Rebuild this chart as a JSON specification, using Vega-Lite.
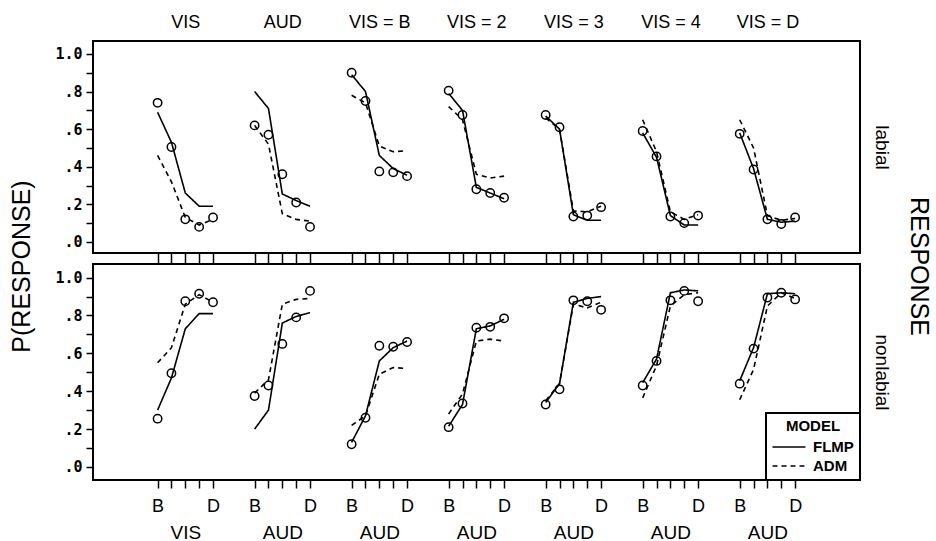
{
  "$schema": "https://vega.github.io/schema/vega-lite/v6.json",
  "background": "white",
  "padding": {"left": 8, "top": 12, "right": 8, "bottom": 0},
  "bounds": "flush",
  "spacing": 11,
  "title": {"text": "RESPONSE", "orient": "right", "anchor": "middle", "angle": 90, "fontSize": 25, "font": "Liberation Sans", "fontWeight": "normal", "offset": 15, "dx": -11, "color": "black"},
  "config": {
    "view": {"stroke": "black", "strokeWidth": 2},
    "axis": {"grid": false, "labelColor": "black", "tickColor": "black", "titleColor": "black", "domainColor": "black", "labelOverlap": false, "labelBound": false, "labelFlush": false, "tickWidth": 1.5},
    "line": {"color": "black"},
    "point": {"color": "black"}
  },
  "datasets": {
    "d": [
      {"resp": "labial", "cond": "VIS", "pos": 0, "obs": 0.74, "FLMP": 0.69, "ADM": 0.46},
      {"resp": "labial", "cond": "VIS", "pos": 1, "obs": 0.505, "FLMP": 0.53, "ADM": 0.32},
      {"resp": "labial", "cond": "VIS", "pos": 2, "obs": 0.12, "FLMP": 0.26, "ADM": 0.13},
      {"resp": "labial", "cond": "VIS", "pos": 3, "obs": 0.08, "FLMP": 0.19, "ADM": 0.09},
      {"resp": "labial", "cond": "VIS", "pos": 4, "obs": 0.13, "FLMP": 0.19, "ADM": 0.12},
      {"resp": "labial", "cond": "AUD", "pos": 7, "obs": 0.62, "FLMP": 0.80, "ADM": 0.62},
      {"resp": "labial", "cond": "AUD", "pos": 8, "obs": 0.57, "FLMP": 0.71, "ADM": 0.52},
      {"resp": "labial", "cond": "AUD", "pos": 9, "obs": 0.36, "FLMP": 0.255, "ADM": 0.15},
      {"resp": "labial", "cond": "AUD", "pos": 10, "obs": 0.21, "FLMP": 0.22, "ADM": 0.12},
      {"resp": "labial", "cond": "AUD", "pos": 11, "obs": 0.08, "FLMP": 0.19, "ADM": 0.11},
      {"resp": "labial", "cond": "VIS = B", "pos": 14, "obs": 0.90, "FLMP": 0.89, "ADM": 0.78},
      {"resp": "labial", "cond": "VIS = B", "pos": 15, "obs": 0.75, "FLMP": 0.80, "ADM": 0.74},
      {"resp": "labial", "cond": "VIS = B", "pos": 16, "obs": 0.375, "FLMP": 0.46, "ADM": 0.51},
      {"resp": "labial", "cond": "VIS = B", "pos": 17, "obs": 0.37, "FLMP": 0.39, "ADM": 0.48},
      {"resp": "labial", "cond": "VIS = B", "pos": 18, "obs": 0.35, "FLMP": 0.355, "ADM": 0.485},
      {"resp": "labial", "cond": "VIS = 2", "pos": 21, "obs": 0.805, "FLMP": 0.79, "ADM": 0.72},
      {"resp": "labial", "cond": "VIS = 2", "pos": 22, "obs": 0.675, "FLMP": 0.70, "ADM": 0.65},
      {"resp": "labial", "cond": "VIS = 2", "pos": 23, "obs": 0.28, "FLMP": 0.29, "ADM": 0.36},
      {"resp": "labial", "cond": "VIS = 2", "pos": 24, "obs": 0.26, "FLMP": 0.26, "ADM": 0.34},
      {"resp": "labial", "cond": "VIS = 2", "pos": 25, "obs": 0.235, "FLMP": 0.23, "ADM": 0.35},
      {"resp": "labial", "cond": "VIS = 3", "pos": 28, "obs": 0.675, "FLMP": 0.67, "ADM": 0.66},
      {"resp": "labial", "cond": "VIS = 3", "pos": 29, "obs": 0.61, "FLMP": 0.60, "ADM": 0.60},
      {"resp": "labial", "cond": "VIS = 3", "pos": 30, "obs": 0.135, "FLMP": 0.145, "ADM": 0.165},
      {"resp": "labial", "cond": "VIS = 3", "pos": 31, "obs": 0.14, "FLMP": 0.115, "ADM": 0.16},
      {"resp": "labial", "cond": "VIS = 3", "pos": 32, "obs": 0.185, "FLMP": 0.115, "ADM": 0.19},
      {"resp": "labial", "cond": "VIS = 4", "pos": 35, "obs": 0.59, "FLMP": 0.58, "ADM": 0.65},
      {"resp": "labial", "cond": "VIS = 4", "pos": 36, "obs": 0.455, "FLMP": 0.45, "ADM": 0.48},
      {"resp": "labial", "cond": "VIS = 4", "pos": 37, "obs": 0.135, "FLMP": 0.14, "ADM": 0.16},
      {"resp": "labial", "cond": "VIS = 4", "pos": 38, "obs": 0.10, "FLMP": 0.09, "ADM": 0.12},
      {"resp": "labial", "cond": "VIS = 4", "pos": 39, "obs": 0.14, "FLMP": 0.09, "ADM": 0.145},
      {"resp": "labial", "cond": "VIS = D", "pos": 42, "obs": 0.575, "FLMP": 0.58, "ADM": 0.65},
      {"resp": "labial", "cond": "VIS = D", "pos": 43, "obs": 0.385, "FLMP": 0.39, "ADM": 0.50},
      {"resp": "labial", "cond": "VIS = D", "pos": 44, "obs": 0.12, "FLMP": 0.12, "ADM": 0.14},
      {"resp": "labial", "cond": "VIS = D", "pos": 45, "obs": 0.095, "FLMP": 0.105, "ADM": 0.115},
      {"resp": "labial", "cond": "VIS = D", "pos": 46, "obs": 0.13, "FLMP": 0.11, "ADM": 0.125},
      {"resp": "nonlabial", "cond": "VIS", "pos": 0, "obs": 0.255, "FLMP": 0.30, "ADM": 0.55},
      {"resp": "nonlabial", "cond": "VIS", "pos": 1, "obs": 0.495, "FLMP": 0.47, "ADM": 0.63},
      {"resp": "nonlabial", "cond": "VIS", "pos": 2, "obs": 0.875, "FLMP": 0.73, "ADM": 0.86},
      {"resp": "nonlabial", "cond": "VIS", "pos": 3, "obs": 0.915, "FLMP": 0.81, "ADM": 0.91},
      {"resp": "nonlabial", "cond": "VIS", "pos": 4, "obs": 0.87, "FLMP": 0.81, "ADM": 0.87},
      {"resp": "nonlabial", "cond": "AUD", "pos": 7, "obs": 0.375, "FLMP": 0.20, "ADM": 0.39},
      {"resp": "nonlabial", "cond": "AUD", "pos": 8, "obs": 0.43, "FLMP": 0.30, "ADM": 0.46},
      {"resp": "nonlabial", "cond": "AUD", "pos": 9, "obs": 0.65, "FLMP": 0.76, "ADM": 0.86},
      {"resp": "nonlabial", "cond": "AUD", "pos": 10, "obs": 0.79, "FLMP": 0.795, "ADM": 0.885},
      {"resp": "nonlabial", "cond": "AUD", "pos": 11, "obs": 0.93, "FLMP": 0.815, "ADM": 0.89},
      {"resp": "nonlabial", "cond": "VIS = B", "pos": 14, "obs": 0.12, "FLMP": 0.13, "ADM": 0.22},
      {"resp": "nonlabial", "cond": "VIS = B", "pos": 15, "obs": 0.26, "FLMP": 0.27, "ADM": 0.27},
      {"resp": "nonlabial", "cond": "VIS = B", "pos": 16, "obs": 0.64, "FLMP": 0.56, "ADM": 0.49},
      {"resp": "nonlabial", "cond": "VIS = B", "pos": 17, "obs": 0.635, "FLMP": 0.63, "ADM": 0.525},
      {"resp": "nonlabial", "cond": "VIS = B", "pos": 18, "obs": 0.66, "FLMP": 0.665, "ADM": 0.52},
      {"resp": "nonlabial", "cond": "VIS = 2", "pos": 21, "obs": 0.21, "FLMP": 0.215, "ADM": 0.28},
      {"resp": "nonlabial", "cond": "VIS = 2", "pos": 22, "obs": 0.335, "FLMP": 0.33, "ADM": 0.385},
      {"resp": "nonlabial", "cond": "VIS = 2", "pos": 23, "obs": 0.735, "FLMP": 0.73, "ADM": 0.665},
      {"resp": "nonlabial", "cond": "VIS = 2", "pos": 24, "obs": 0.74, "FLMP": 0.745, "ADM": 0.675},
      {"resp": "nonlabial", "cond": "VIS = 2", "pos": 25, "obs": 0.785, "FLMP": 0.78, "ADM": 0.665},
      {"resp": "nonlabial", "cond": "VIS = 3", "pos": 28, "obs": 0.33, "FLMP": 0.34, "ADM": 0.35},
      {"resp": "nonlabial", "cond": "VIS = 3", "pos": 29, "obs": 0.41, "FLMP": 0.44, "ADM": 0.44},
      {"resp": "nonlabial", "cond": "VIS = 3", "pos": 30, "obs": 0.88, "FLMP": 0.87, "ADM": 0.86},
      {"resp": "nonlabial", "cond": "VIS = 3", "pos": 31, "obs": 0.875, "FLMP": 0.89, "ADM": 0.84},
      {"resp": "nonlabial", "cond": "VIS = 3", "pos": 32, "obs": 0.83, "FLMP": 0.90, "ADM": 0.87},
      {"resp": "nonlabial", "cond": "VIS = 4", "pos": 35, "obs": 0.43, "FLMP": 0.445, "ADM": 0.365},
      {"resp": "nonlabial", "cond": "VIS = 4", "pos": 36, "obs": 0.56, "FLMP": 0.57, "ADM": 0.535},
      {"resp": "nonlabial", "cond": "VIS = 4", "pos": 37, "obs": 0.88, "FLMP": 0.92, "ADM": 0.85},
      {"resp": "nonlabial", "cond": "VIS = 4", "pos": 38, "obs": 0.93, "FLMP": 0.935, "ADM": 0.91},
      {"resp": "nonlabial", "cond": "VIS = 4", "pos": 39, "obs": 0.875, "FLMP": 0.93, "ADM": 0.92},
      {"resp": "nonlabial", "cond": "VIS = D", "pos": 42, "obs": 0.44, "FLMP": 0.455, "ADM": 0.355},
      {"resp": "nonlabial", "cond": "VIS = D", "pos": 43, "obs": 0.625, "FLMP": 0.63, "ADM": 0.515},
      {"resp": "nonlabial", "cond": "VIS = D", "pos": 44, "obs": 0.895, "FLMP": 0.915, "ADM": 0.85},
      {"resp": "nonlabial", "cond": "VIS = D", "pos": 45, "obs": 0.92, "FLMP": 0.92, "ADM": 0.92},
      {"resp": "nonlabial", "cond": "VIS = D", "pos": 46, "obs": 0.885, "FLMP": 0.915, "ADM": 0.89}
    ]
  },
  "resolve": {"legend": {"strokeDash": "independent"}},
  "vconcat": [
    {
      "width": 767,
      "height": 212,
      "data": {"name": "d"},
      "transform": [{"filter": "datum.resp == 'labial'"}],
      "resolve": {"axis": {"x": "independent", "y": "independent"}},
      "layer": [
        {
          "transform": [{"fold": ["FLMP", "ADM"], "as": ["model", "p"]}],
          "mark": {"type": "line", "color": "black", "strokeWidth": 1.6},
          "encoding": {
            "x": {"field": "pos", "type": "quantitative",
              "scale": {"domain": [-4.66, 50.68], "nice": false, "zero": false},
              "axis": {"orient": "top", "values": [2, 9, 16, 23, 30, 37, 44], "labelExpr": "['VIS','AUD','VIS = B','VIS = 2','VIS = 3','VIS = 4','VIS = D'][round((datum.value-2)/7)]", "ticks": false, "tickSize": 0, "domain": false, "labelFont": "Liberation Sans", "labelFontSize": 18, "labelPadding": 10, "title": null}},
            "y": {"field": "p", "type": "quantitative",
              "scale": {"domain": [-0.059, 1.069], "nice": false, "zero": false},
              "axis": {"orient": "left", "values": [0, 0.1, 0.2, 0.3, 0.4, 0.5, 0.6, 0.7, 0.8, 0.9, 1], "labelExpr": "round(datum.value*10)==10 ? '1.0' : (round(datum.value*10)%2==0 ? '.' + round(datum.value*10) : '')", "tickSize": 7, "labelPadding": 4, "domain": false, "labelFont": "DejaVu Sans Mono", "labelFontSize": 15, "labelFontWeight": "bold", "title": null}},
            "strokeDash": {"field": "model", "type": "nominal", "scale": {"domain": ["FLMP", "ADM"], "range": [[1, 0], [5, 4]]}, "legend": null},
            "detail": {"field": "cond"}
          }
        },
        {
          "mark": {"type": "point", "shape": "circle", "filled": false, "color": "black", "size": 70, "strokeWidth": 1.5, "opacity": 1},
          "encoding": {
            "x": {"field": "pos", "type": "quantitative",
              "axis": {"orient": "bottom", "values": [0,1,2,3,4,7,8,9,10,11,14,15,16,17,18,21,22,23,24,25,28,29,30,31,32,35,36,37,38,39,42,43,44,45,46], "labels": false, "tickSize": 11, "domain": false, "title": null}},
            "y": {"field": "obs", "type": "quantitative",
              "axis": {"orient": "right", "labels": false, "ticks": false, "domain": false, "title": "labial", "titleAngle": 90, "titleFont": "Liberation Sans", "titleFontSize": 19, "titleFontWeight": "normal", "titlePadding": 11}}
          }
        }
      ]
    },
    {
      "width": 767,
      "height": 216,
      "data": {"name": "d"},
      "transform": [{"filter": "datum.resp == 'nonlabial'"}],
      "resolve": {"axis": {"x": "independent", "y": "independent"}},
      "layer": [
        {
          "transform": [{"fold": ["FLMP", "ADM"], "as": ["model", "p"]}],
          "mark": {"type": "line", "color": "black", "strokeWidth": 1.6},
          "encoding": {
            "x": {"field": "pos", "type": "quantitative",
              "scale": {"domain": [-4.66, 50.68], "nice": false, "zero": false},
              "axis": {"orient": "bottom", "values": [0,1,2,3,4,7,8,9,10,11,14,15,16,17,18,21,22,23,24,25,28,29,30,31,32,35,36,37,38,39,42,43,44,45,46], "labelExpr": "datum.value % 7 == 0 ? 'B' : (datum.value % 7 == 4 ? 'D' : '')", "tickSize": 8, "labelPadding": 9, "domain": false, "labelFont": "Liberation Sans", "labelFontSize": 18, "title": null}},
            "y": {"field": "p", "type": "quantitative",
              "scale": {"domain": [-0.069, 1.072], "nice": false, "zero": false},
              "axis": {"orient": "left", "values": [0, 0.1, 0.2, 0.3, 0.4, 0.5, 0.6, 0.7, 0.8, 0.9, 1], "labelExpr": "round(datum.value*10)==10 ? '1.0' : (round(datum.value*10)%2==0 ? '.' + round(datum.value*10) : '')", "tickSize": 7, "labelPadding": 4, "domain": false, "labelFont": "DejaVu Sans Mono", "labelFontSize": 15, "labelFontWeight": "bold", "title": "P(RESPONSE)", "titleFont": "Liberation Sans", "titleFontSize": 25, "titleFontWeight": "normal", "titlePadding": 20, "titleY": 2}},
            "strokeDash": {"field": "model", "type": "nominal", "scale": {"domain": ["FLMP", "ADM"], "range": [[1, 0], [5, 4]]},
              "legend": {"title": "MODEL", "orient": "bottom-right", "offset": 0, "strokeColor": "black", "fillColor": "white", "padding": 6, "titleFont": "Liberation Sans Narrow, Liberation Sans", "titleFontSize": 15, "titleFontWeight": "bold", "titleAnchor": "middle", "titlePadding": 4, "labelFont": "Liberation Sans Narrow, Liberation Sans", "labelFontSize": 15, "labelFontWeight": "bold", "labelColor": "black", "titleColor": "black", "symbolType": "M-2,0H2", "symbolSize": 272, "symbolStrokeWidth": 1.5, "symbolStrokeColor": "black", "symbolOffset": 8, "rowPadding": 2, "labelOffset": 15,
                "encode": {"legend": {"update": {"strokeWidth": {"value": 2}}}}}},
            "detail": {"field": "cond"}
          }
        },
        {
          "mark": {"type": "point", "shape": "circle", "filled": false, "color": "black", "size": 70, "strokeWidth": 1.5, "opacity": 1},
          "encoding": {
            "x": {"field": "pos", "type": "quantitative",
              "axis": {"orient": "bottom", "values": [2, 9, 16, 23, 30, 37, 44], "labelExpr": "datum.value < 5 ? 'VIS' : 'AUD'", "ticks": false, "tickSize": 0, "labelPadding": 43, "domain": false, "labelFont": "Liberation Sans", "labelFontSize": 19, "title": null}},
            "y": {"field": "obs", "type": "quantitative",
              "axis": {"orient": "right", "labels": false, "ticks": false, "domain": false, "title": "nonlabial", "titleAngle": 90, "titleFont": "Liberation Sans", "titleFontSize": 19, "titleFontWeight": "normal", "titlePadding": 11}}
          }
        }
      ]
    }
  ]
}
